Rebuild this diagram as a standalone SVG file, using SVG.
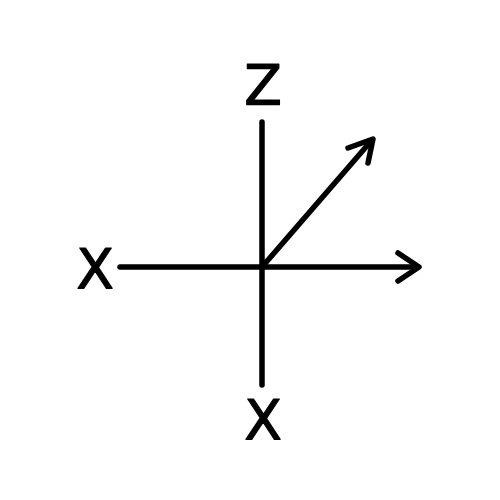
<svg xmlns="http://www.w3.org/2000/svg" width="500" height="500" viewBox="0 0 500 500">
<style>
.ax{fill:none;stroke:#000;stroke-width:5.5;stroke-linecap:round;stroke-linejoin:round}
.lbl{font-family:"DejaVu Sans",sans-serif;font-size:55px;fill:#000;stroke:#000;stroke-width:1.2;stroke-linejoin:round;text-anchor:middle}
</style>
<rect width="500" height="500" fill="#fff"/>
<g id="connectors">
<line class="ax" x1="262" y1="122" x2="262" y2="385"/>
<line class="ax" x1="120" y1="267" x2="418" y2="267"/>
<polyline class="ax" points="398,253 419,267 398,281"/>
<line class="ax" x1="262" y1="267" x2="372" y2="140"/>
<polyline class="ax" points="348,148 373,139 368,163"/>
</g>
<g id="label-z"><text class="lbl" x="263" y="104">Z</text></g>
<g id="label-x-left"><text class="lbl" x="95" y="288">X</text></g>
<g id="label-x-bottom"><text class="lbl" x="263" y="439">X</text></g>
</svg>
